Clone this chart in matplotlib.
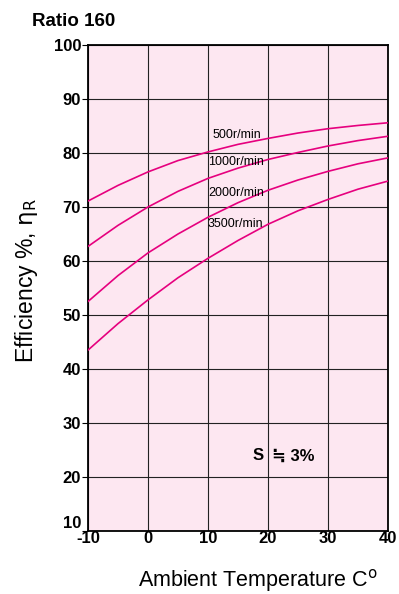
# Efficiency vs ambient temperature, ratio 160

import matplotlib.pyplot as plt

plt.rcParams['font.family'] = ['Liberation Sans', 'DejaVu Sans']
plt.rcParams['axes.unicode_minus'] = False

# temperatures (C) and efficiency readings (%) per input speed
temps = [-10, -5, 0, 5, 10, 15, 20, 25, 30, 35, 40]
eff_500 = [71.1, 74.0, 76.5, 78.6, 80.2, 81.6, 82.7, 83.7, 84.5, 85.1, 85.6]
eff_1000 = [62.7, 66.6, 70.0, 72.9, 75.3, 77.2, 78.8, 80.1, 81.3, 82.3, 83.1]
eff_2000 = [52.5, 57.3, 61.5, 65.0, 68.1, 70.8, 73.1, 75.0, 76.6, 78.0, 79.1]
eff_3500 = [43.5, 48.4, 52.8, 56.9, 60.5, 63.8, 66.8, 69.3, 71.4, 73.3, 74.8]

speed_labels = ['500r/min', '1000r/min', '2000r/min', '3500r/min']
label_x = [10.7, 10.0, 10.0, 10.0]
label_y = [83.3, 78.3, 72.6, 66.9]

x_ticks = [-10, 0, 10, 20, 30, 40]
y_ticks = [10, 20, 30, 40, 50, 60, 70, 80, 90, 100]

curve_color = '#e6007e'

fig = plt.figure(figsize=(3.99, 5.94), dpi=100)
ax = fig.add_axes([88 / 399, 63 / 594, 300 / 399, 486 / 594])
ax.set_facecolor('#fde7f1')

for ys in [eff_500, eff_1000, eff_2000, eff_3500]:
    ax.plot(temps, ys, color=curve_color, lw=1.2, zorder=3)

for lab, lx, ly in zip(speed_labels, label_x, label_y):
    ax.text(lx, ly, lab, fontsize=9, ha='left', va='center',
            family=['Liberation Sans Narrow', 'Liberation Sans'], zorder=4)

ax.text(19.2, 23.9, 'S', fontsize=12, fontweight='bold', ha='right', va='center')
ax.text(20.6, 23.9, '≒ 3%', fontsize=12, fontweight='bold', ha='left', va='center')

ax.set_xlim(-10, 40)
ax.set_ylim(10, 100)
ax.set_xticks(x_ticks)
ax.set_yticks(y_ticks)
ax.grid(True, color='#222222', lw=0.8)
ax.set_axisbelow(True)
for s in ax.spines.values():
    s.set_linewidth(1.3)

ax.tick_params(axis='x', length=0, pad=0, labelsize=12)
ax.tick_params(axis='y', length=4, width=0.8, pad=1, labelsize=12)
for t in ax.get_xticklabels() + ax.get_yticklabels():
    t.set_fontweight('bold')
ax.get_yticklabels()[0].set_verticalalignment('bottom')

ax.set_xlabel('Ambient Temperature C$^{\\mathrm{o}}$', fontsize=15.5)
ax.xaxis.set_label_coords(0.568, -0.074)
ax.set_ylabel('Efficiency %, $\\mathrm{\\eta_R}$', fontsize=16.5)
ax.yaxis.set_label_coords(-0.16, 0.516)

fig.text(32 / 399, 1 - 26 / 594, 'Ratio 160', fontsize=13.5, fontweight='bold')

fig.savefig('out.png', dpi=100)
